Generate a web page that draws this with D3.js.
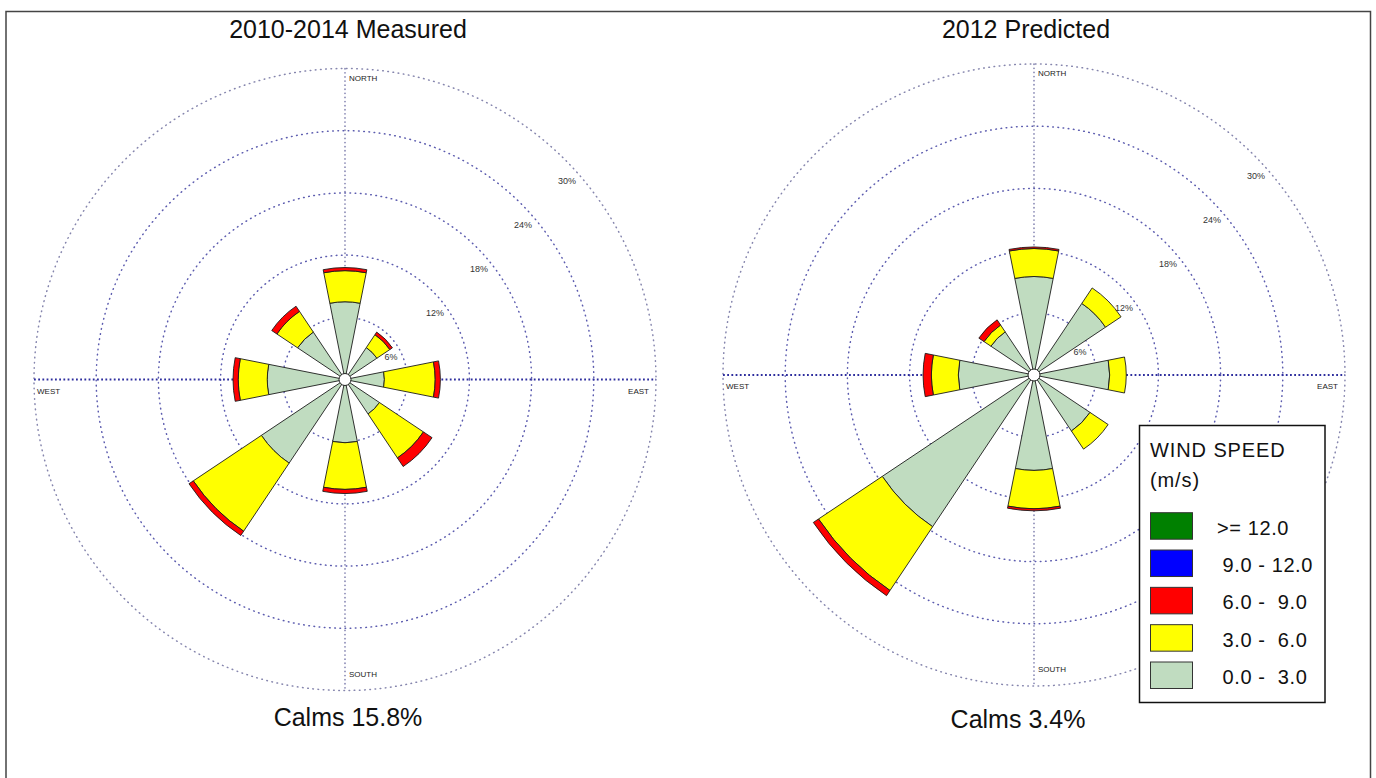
<!DOCTYPE html>
<html>
<head>
<meta charset="utf-8">
<script src="https://cdn.jsdelivr.net/npm/d3@7"></script>
<style>
  body { margin: 0; background: #fff; }
  svg { display: block; }
  text { font-family: "Liberation Sans", Arial, Helvetica, sans-serif; }
</style>
</head>
<body>
<svg id="chart" width="1376" height="778"></svg>
<script>
// ---- wind rose data -------------------------------------------------------
const directions = ["N", "NE", "E", "SE", "S", "SW", "W", "NW"];
const directionAngles = [0, 45, 90, 135, 180, 225, 270, 315];

const speedClasses = ["0.0 -  3.0", "3.0 -  6.0", "6.0 -  9.0", "9.0 - 12.0", ">= 12.0"];
const speedColors  = ["#c0dcc0", "#ffff00", "#ff0000", "#0000ff", "#008000"];

// 2010-2014 measured frequency (%) by direction, per speed class
const measured_0_3  = [7.5, 3.7, 3.8, 4.0, 6.1, 9.7, 7.5, 5.5];
const measured_3_6  = [3.0, 1.5, 4.9, 5.1, 4.5, 7.9, 2.8, 2.4];
const measured_6_9  = [0.3, 0.3, 0.5, 1.0, 0.4, 0.5, 0.5, 0.6];
const measured_9_12 = [0, 0, 0, 0, 0, 0, 0, 0];
const measured_12   = [0, 0, 0, 0, 0, 0, 0, 0];
const measuredCalms = 15.8;

// 2012 predicted frequency (%) by direction, per speed class
const predicted_0_3  = [9.5, 8.3, 7.3, 6.5, 9.2, 17.6, 7.3, 5.0];
const predicted_3_6  = [2.7, 1.8, 1.6, 2.1, 3.7, 7.4, 2.6, 0.8];
const predicted_6_9  = [0.15, 0, 0, 0, 0.2, 0.6, 0.8, 0.6];
const predicted_9_12 = [0, 0, 0, 0, 0, 0, 0, 0];
const predicted_12   = [0, 0, 0, 0, 0, 0, 0, 0];
const predictedCalms = 3.4;

const ringValues = [6, 12, 18, 24, 30];
const ringLabels = ["6%", "12%", "18%", "24%", "30%"];
const compassLabels = ["NORTH", "EAST", "SOUTH", "WEST"];

const legendTitle = ["WIND SPEED", "(m/s)"];
// legend lists classes from fastest to slowest
const legendOrder = [4, 3, 2, 1, 0];

// ---- layout ---------------------------------------------------------------
const svg = d3.select("#chart");
const R = 311;
const sectorWidth = 22.5 * Math.PI / 180;
const rad = d => d * Math.PI / 180;

const roses = [
  { title: "2010-2014 Measured", tx: 348, cx: 345, cy: 379.5, calmsX: 348, calmsY: 726,
    classes: [measured_0_3, measured_3_6, measured_6_9, measured_9_12, measured_12], calms: measuredCalms },
  { title: "2012 Predicted", tx: 1026, cx: 1034, cy: 375, calmsX: 1018, calmsY: 728,
    classes: [predicted_0_3, predicted_3_6, predicted_6_9, predicted_9_12, predicted_12], calms: predictedCalms }
];

// outer frame
svg.append("rect")
  .attr("x", 6).attr("y", 11.5).attr("width", 1364.5).attr("height", 820)
  .attr("fill", "none").attr("stroke", "#444").attr("stroke-width", 1.5);

const r = d3.scaleLinear().domain([0, 30]).range([0, R]);

roses.forEach(rose => {
  const g = svg.append("g").attr("transform", `translate(${rose.cx},${rose.cy})`);

  // concentric frequency rings
  g.selectAll("circle.ring").data(ringValues).join("circle")
    .attr("class", "ring")
    .attr("r", d => r(d))
    .attr("fill", "none")
    .attr("stroke", (d, i) => i === ringValues.length - 1 ? "#7878a4" : "#4a4aa6")
    .attr("stroke-width", 1.5)
    .attr("stroke-linecap", "round")
    .attr("stroke-dasharray", "0.6 4.6")
    .attr("opacity", 0.9);

  // compass axes
  g.append("line").attr("x1", 0).attr("x2", 0).attr("y1", -R).attr("y2", R)
    .attr("stroke", "#66669e").attr("stroke-width", 1.3)
    .attr("stroke-linecap", "round").attr("stroke-dasharray", "0.5 3.6");
  g.append("line").attr("x1", -R).attr("x2", R).attr("y1", 0).attr("y2", 0)
    .attr("stroke", "#2e2e9e").attr("stroke-width", 1.8)
    .attr("stroke-dasharray", "1.8 2.4");

  // stacked petals, slowest class nearest the centre
  const petals = [];
  directions.forEach((dir, i) => {
    let inner = 0;
    rose.classes.forEach((vals, k) => {
      const v = vals[i];
      if (v > 0) {
        petals.push({ angle: rad(directionAngles[i]), inner, outer: inner + v, k });
        inner += v;
      }
    });
  });

  const arc = d3.arc()
    .innerRadius(d => r(d.inner))
    .outerRadius(d => r(d.outer))
    .startAngle(d => d.angle - sectorWidth / 2)
    .endAngle(d => d.angle + sectorWidth / 2);

  g.selectAll("path.petal").data(petals).join("path")
    .attr("class", "petal")
    .attr("d", arc)
    .attr("fill", d => speedColors[d.k])
    .attr("stroke", "#1c1c1c")
    .attr("stroke-width", 0.9)
    .attr("stroke-linejoin", "miter");

  // calm centre
  g.append("circle").attr("r", 6).attr("fill", "#fff").attr("stroke", "#222").attr("stroke-width", 1);

  // ring labels along the north-east diagonal
  g.selectAll("text.ringlabel").data(ringValues).join("text")
    .attr("class", "ringlabel")
    .attr("x", d => r(d) * Math.sin(rad(45)) + 2)
    .attr("y", d => -r(d) * Math.cos(rad(45)) + 24)
    .attr("text-anchor", "middle")
    .attr("font-size", 9)
    .attr("fill", "#333")
    .text((d, i) => ringLabels[i]);

  // compass point names
  const cl = g.append("g").attr("font-size", 8).attr("fill", "#222");
  cl.append("text").attr("x", 4).attr("y", -R + 12).text(compassLabels[0]);
  cl.append("text").attr("x", R - 7).attr("y", 14).attr("text-anchor", "end").text(compassLabels[1]);
  cl.append("text").attr("x", 4).attr("y", R - 14).text(compassLabels[2]);
  cl.append("text").attr("x", -R + 3).attr("y", 14).text(compassLabels[3]);

  // title and calms
  svg.append("text").attr("x", rose.tx).attr("y", 38).attr("text-anchor", "middle")
    .attr("font-size", 25).attr("fill", "#111").text(rose.title);
  svg.append("text").attr("x", rose.calmsX).attr("y", rose.calmsY).attr("text-anchor", "middle")
    .attr("font-size", 25).attr("fill", "#111").text(`Calms ${rose.calms}%`);
});

// ---- legend ---------------------------------------------------------------
const lg = svg.append("g");
lg.append("rect")
  .attr("x", 1139.5).attr("y", 425.5).attr("width", 185.5).attr("height", 277)
  .attr("fill", "#fff").attr("stroke", "#111").attr("stroke-width", 1.5);

lg.selectAll("text.ltitle").data(legendTitle).join("text")
  .attr("class", "ltitle")
  .attr("x", 1150).attr("y", (d, i) => 457 + i * 30)
  .attr("font-size", 20).attr("letter-spacing", 0.9).attr("fill", "#111")
  .text(d => d);

const rowY = d3.scalePoint().domain(legendOrder).range([512.7, 662]);

lg.selectAll("rect.swatch").data(legendOrder).join("rect")
  .attr("class", "swatch")
  .attr("x", 1150.5).attr("y", d => rowY(d))
  .attr("width", 42).attr("height", 26.5)
  .attr("fill", d => speedColors[d])
  .attr("stroke", "#333").attr("stroke-width", 1);

lg.selectAll("text.lrow").data(legendOrder).join("text")
  .attr("class", "lrow")
  .attr("x", d => d === 4 ? 1217 : 1222.5)
  .attr("y", d => rowY(d) + 22)
  .attr("font-size", 20).attr("letter-spacing", 0.6).attr("fill", "#111")
  .style("white-space", "pre")
  .text(d => speedClasses[d]);
</script>
</body>
</html>
